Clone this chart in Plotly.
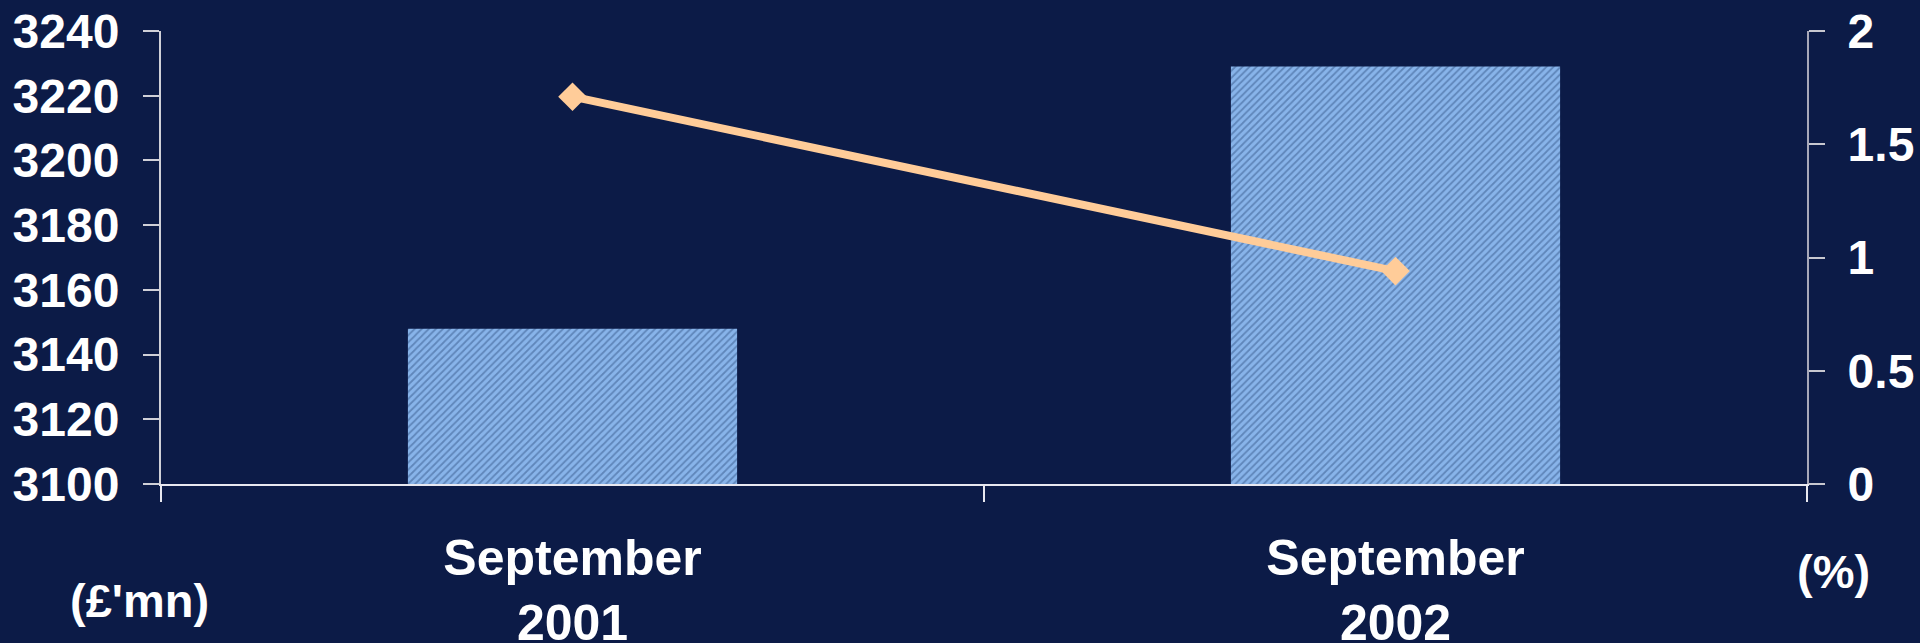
import plotly.graph_objects as go

categories = ["September<br>2001", "September<br>2002"]
funds_mn = [3148, 3229]          # left axis, £'mn (bars)
rate_pct = [1.71, 0.94]          # right axis, % (line)
left_ticks = [3100, 3120, 3140, 3160, 3180, 3200, 3220, 3240]
right_ticks = [0, 0.5, 1, 1.5, 2]

BG = "#0C1B47"
FONT = "Liberation Sans, Arial, sans-serif"
tickfont = dict(family=FONT, size=48, color="white", weight="bold")

fig = go.Figure()
fig.add_trace(go.Bar(
    x=categories, y=funds_mn, yaxis="y",
    marker=dict(
        color="#7DA6DA",
        line=dict(width=0),
        pattern=dict(shape="/", fgcolor="#5F86BA", bgcolor="#88B4EA",
                     size=5, solidity=0.35, fillmode="replace"),
    ),
    showlegend=False,
))
fig.add_trace(go.Scatter(
    x=categories, y=rate_pct, yaxis="y2", mode="lines+markers",
    line=dict(color="#FFCC99", width=8),
    marker=dict(symbol="diamond", size=22, color="#FFCC99"),
    showlegend=False,
))

fig.update_layout(
    template="none",
    width=1920, height=643,
    paper_bgcolor=BG, plot_bgcolor=BG,
    margin=dict(l=161, r=113, t=31, b=159, autoexpand=False),
    bargap=0.6,
    xaxis=dict(
        automargin=False,
        showline=True, linecolor="#E8E8F0", linewidth=2,
        ticks="outside", tickson="boundaries", ticklen=16, tickwidth=2,
        tickcolor="#E8E8F0", showgrid=False, zeroline=False,
        tickfont=dict(family=FONT, size=50, color="white", weight="bold"),
        ticklabelstandoff=29,
    ),
    yaxis=dict(
        automargin=False,
        range=[3100, 3240], tickvals=left_ticks,
        showline=True, linecolor="#D0D0D8", linewidth=2,
        ticks="outside", ticklen=16, tickwidth=2, tickcolor="#D0D0D8",
        showgrid=False, zeroline=False, tickfont=tickfont,
        ticklabelstandoff=14,
    ),
    yaxis2=dict(
        automargin=False,
        range=[0, 2], tickvals=right_ticks, overlaying="y", side="right",
        showline=True, linecolor="#A8A8B8", linewidth=2,
        ticks="outside", ticklen=16, tickwidth=2, tickcolor="#C8C8D0",
        showgrid=False, zeroline=False, tickfont=tickfont,
        ticklabelstandoff=13,
    ),
    annotations=[
        dict(text="(£'mn)", xref="paper", yref="paper", x=-0.013, y=-0.258,
             xanchor="center", yanchor="middle", showarrow=False,
             font=dict(family=FONT, size=47, color="white", weight="bold")),
        dict(text="(%)", xref="paper", yref="paper", x=1.016, y=-0.194,
             xanchor="center", yanchor="middle", showarrow=False,
             font=dict(family=FONT, size=47, color="white", weight="bold")),
    ],
)

fig.write_html(
    "out.html",
    config={"displayModeBar": False},
    post_script="document.body.style.margin='0';"
                "document.documentElement.style.overflow='hidden';"
                "document.body.style.background='" + BG + "';",
)
